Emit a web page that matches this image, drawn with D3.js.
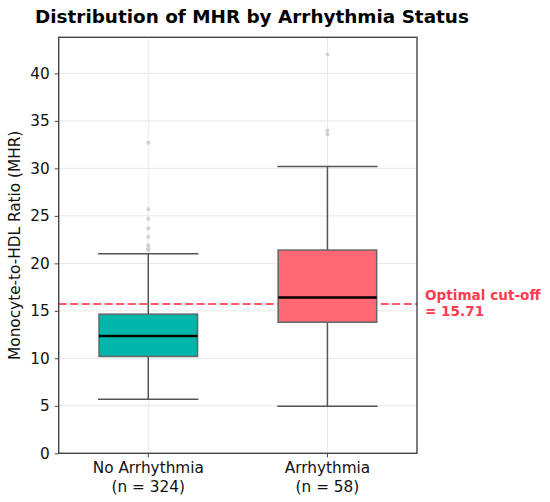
<!DOCTYPE html>
<html>
<head>
<meta charset="utf-8">
<script src="https://cdn.jsdelivr.net/npm/d3@7"></script>
<style>
  body { margin: 0; background: #fff; }
  svg { display: block; font-family: 'DejaVu Sans', sans-serif; }
  svg text { font-family: 'DejaVu Sans', sans-serif; }
</style>
</head>
<body>
<svg id="chart"></svg>
<script>
// categories and box statistics
const categories = ['No Arrhythmia', 'Arrhythmia'];
const counts = [324, 58];
const whiskerLow = [5.7, 4.95];
const q1 = [10.2, 13.8];
const median = [12.35, 16.4];
const q3 = [14.65, 21.4];
const whiskerHigh = [21.0, 30.2];
const outliers = [
  [32.7, 25.7, 24.7, 23.7, 22.8, 21.9, 21.6, 21.4],
  [42.0, 34.0, 33.6]
];
const yTicks = [0, 5, 10, 15, 20, 25, 30, 35, 40];
const cutoff = 15.71;
const boxColors = ['#00b5a9', '#ff6874'];

const W = 550, H = 502;
const margin = { top: 37.3, right: 133, bottom: 48.7, left: 58.7 };
const width = W - margin.left - margin.right;
const height = H - margin.top - margin.bottom;
const fs = 15.3;

const svg = d3.select('#chart').attr('width', W).attr('height', H);

const x = d3.scaleBand()
  .domain(categories)
  .range([0, width])
  .paddingInner(0)
  .paddingOuter(0);
const y = d3.scaleLinear()
  .domain([0, 43.8])
  .range([height, 0]);

const g = svg.append('g')
  .attr('transform', `translate(${margin.left}, ${margin.top})`);

// grid
g.append('g')
  .selectAll('line')
  .data(yTicks)
  .join('line')
  .attr('x1', 0).attr('x2', width)
  .attr('y1', d => y(d)).attr('y2', d => y(d))
  .attr('stroke', '#e8e8e8').attr('stroke-width', 1);
g.append('g')
  .selectAll('line')
  .data(categories)
  .join('line')
  .attr('x1', d => x(d) + x.bandwidth() / 2).attr('x2', d => x(d) + x.bandwidth() / 2)
  .attr('y1', 0).attr('y2', height)
  .attr('stroke', '#e8e8e8').attr('stroke-width', 1);

// cut-off line
g.append('line')
  .attr('x1', 0).attr('x2', width)
  .attr('y1', y(cutoff)).attr('y2', y(cutoff))
  .attr('stroke', '#ff3b4f').attr('stroke-opacity', 0.85)
  .attr('stroke-width', 2)
  .attr('stroke-dasharray', '8,3.5');

const boxW = x.bandwidth() * 0.55;
const capW = x.bandwidth() * 0.28;

const boxes = g.selectAll('g.box')
  .data(categories)
  .join('g')
  .attr('class', 'box')
  .attr('transform', d => `translate(${x(d) + x.bandwidth() / 2}, 0)`);

// outliers
boxes.selectAll('circle')
  .data((d, i) => outliers[i])
  .join('circle')
  .attr('cx', 0)
  .attr('cy', d => y(d))
  .attr('r', 2)
  .attr('fill', '#c8c8c8')
  .attr('fill-opacity', 0.8);

// whiskers
boxes.append('line')
  .attr('x1', 0).attr('x2', 0)
  .attr('y1', (d, i) => y(whiskerLow[i])).attr('y2', (d, i) => y(q1[i]))
  .attr('stroke', '#555').attr('stroke-width', 1.5);
boxes.append('line')
  .attr('x1', 0).attr('x2', 0)
  .attr('y1', (d, i) => y(q3[i])).attr('y2', (d, i) => y(whiskerHigh[i]))
  .attr('stroke', '#555').attr('stroke-width', 1.5);
boxes.append('line')
  .attr('x1', -capW).attr('x2', capW)
  .attr('y1', (d, i) => y(whiskerLow[i])).attr('y2', (d, i) => y(whiskerLow[i]))
  .attr('stroke', '#555').attr('stroke-width', 1.5);
boxes.append('line')
  .attr('x1', -capW).attr('x2', capW)
  .attr('y1', (d, i) => y(whiskerHigh[i])).attr('y2', (d, i) => y(whiskerHigh[i]))
  .attr('stroke', '#555').attr('stroke-width', 1.5);

// boxes
boxes.append('rect')
  .attr('x', -boxW / 2)
  .attr('width', boxW)
  .attr('y', (d, i) => y(q3[i]))
  .attr('height', (d, i) => y(q1[i]) - y(q3[i]))
  .attr('fill', (d, i) => boxColors[i])
  .attr('stroke', '#666').attr('stroke-width', 1.5);
boxes.append('line')
  .attr('x1', -boxW / 2).attr('x2', boxW / 2)
  .attr('y1', (d, i) => y(median[i])).attr('y2', (d, i) => y(median[i]))
  .attr('stroke', '#000').attr('stroke-width', 2.5);

// axes
const yAxis = d3.axisLeft(y).tickValues(yTicks).tickSize(4).tickPadding(5);
const xAxis = d3.axisBottom(x).tickSize(4).tickPadding(4).tickFormat(() => '');

const ya = g.append('g').call(yAxis)
  .attr('font-family', 'DejaVu Sans').attr('font-size', fs);
ya.select('.domain').remove();
ya.selectAll('line').attr('stroke', '#444');
ya.selectAll('text').attr('fill', '#111');

const xa = g.append('g').attr('transform', `translate(0, ${height})`).call(xAxis)
  .attr('font-family', 'DejaVu Sans').attr('font-size', fs);
xa.select('.domain').remove();
xa.selectAll('line').attr('stroke', '#444');
xa.selectAll('.tick text').remove();
xa.selectAll('.tick').append('text')
  .attr('text-anchor', 'middle')
  .attr('fill', '#111')
  .selectAll('tspan')
  .data((d, i) => [d, `(n = ${counts[i]})`])
  .join('tspan')
  .attr('x', 0)
  .attr('y', (d, i) => 19.7 + i * 18.7)
  .text(d => d);

// frame
g.append('rect')
  .attr('width', width).attr('height', height)
  .attr('fill', 'none')
  .attr('stroke', '#444').attr('stroke-width', 1.4);

// cut-off label
const lbl = g.append('text')
  .attr('font-size', 13.6)
  .attr('font-weight', 'bold')
  .attr('fill', '#ff3b4f');
lbl.append('tspan').attr('x', width + 8).attr('y', y(cutoff) - 4).text('Optimal cut-off');
lbl.append('tspan').attr('x', width + 8).attr('y', y(cutoff) + 11.5).text(`= ${cutoff}`);

// title and y label
svg.append('text')
  .attr('x', 35).attr('y', 22.7)
  .attr('font-size', 18.4)
  .attr('font-weight', 'bold')
  .attr('fill', '#000')
  .text('Distribution of MHR by Arrhythmia Status');

svg.append('text')
  .attr('transform', `translate(20, ${margin.top + height / 2}) rotate(-90)`)
  .attr('text-anchor', 'middle')
  .attr('font-size', fs)
  .attr('fill', '#111')
  .text('Monocyte-to-HDL Ratio (MHR)');
</script>
</body>
</html>
